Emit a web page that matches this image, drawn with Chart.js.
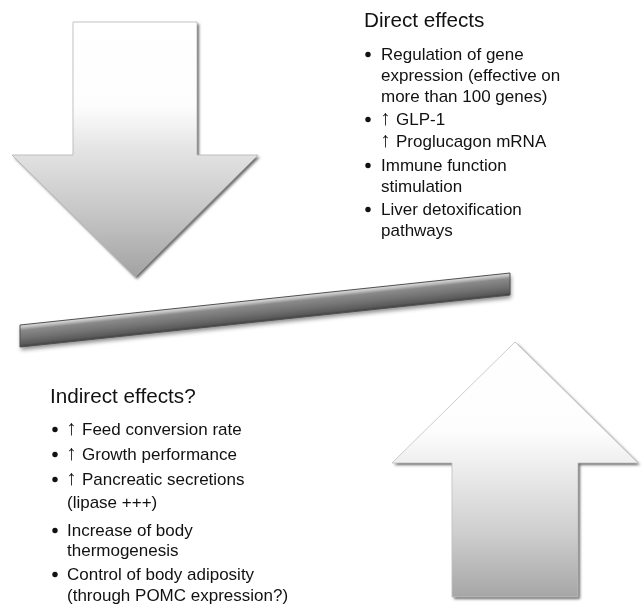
<!DOCTYPE html>
<html><head><meta charset="utf-8">
<script src="https://cdn.jsdelivr.net/npm/chart.js@4/dist/chart.umd.min.js"></script>
<style>html,body{margin:0;padding:0;background:#fff}#wrap{position:relative;width:642px;height:606px}</style>
</head><body><div id="wrap"><canvas id="c"></canvas></div>
<script>
// ---- content ----
const directTitle = 'Direct effects';
const directItems = [
  ['Regulation of gene', 'expression (effective on', 'more than 100 genes)'],
  ['\u2191 GLP-1', '\u2191 Proglucagon mRNA'],
  ['Immune function', 'stimulation'],
  ['Liver detoxification', 'pathways']
];
const indirectTitle = 'Indirect effects?';
const indirectItems = [
  ['\u2191 Feed conversion rate'],
  ['\u2191 Growth performance'],
  ['\u2191 Pancreatic secretions', '(lipase +++)'],
  ['Increase of body', 'thermogenesis'],
  ['Control of body adiposity', '(through POMC expression?)']
];

// ---- layout (diagram coordinates, 1 unit = 1 px) ----
const downArrowShape = [[73,22],[197,22],[197,155],[258,155],[135,277],[12,155],[73,155]];
const upArrowShape   = [[515,342],[638,463],[578,463],[578,597],[452,597],[452,463],[392,463]];
const beamShape      = [[20,325],[510,273],[510,295],[20,347]];

const directLayout = { titleX: 364, titleY: 27, bulletX: 368, textX: 381,
  baselines: [[60,81,102],[125,147],[171,192],[215,236]] };
const indirectLayout = { titleX: 50, titleY: 403, bulletX: 55, textX: 67,
  baselines: [[435],[460],[485,508],[536,556],[580,601]] };

const bodyFont = '17px "Liberation Sans", Arial, Helvetica, sans-serif';
const arrowFont = '21px "Liberation Sans", Arial, Helvetica, sans-serif';
const titleFont = '20.7px "Liberation Sans", Arial, Helvetica, sans-serif';

function toPts(s){ return s.map(p => ({x:p[0], y:p[1]})); }

const shapesPlugin = {
  id: 'shapes',
  afterDatasetsDraw(chart) {
    const ctx = chart.ctx;
    const xs = chart.scales.x, ys = chart.scales.y;
    const path = (i) => {
      const pts = chart.getDatasetMeta(i).data;
      ctx.beginPath();
      pts.forEach((p, k) => k ? ctx.lineTo(p.x, p.y) : ctx.moveTo(p.x, p.y));
      ctx.closePath();
      return pts;
    };
    // down arrow
    ctx.save();
    let pts = path(0);
    let g = ctx.createLinearGradient(0, ys.getPixelForValue(22), 0, ys.getPixelForValue(277));
    g.addColorStop(0, '#ffffff'); g.addColorStop(0.33, '#fdfdfd'); g.addColorStop(0.5, '#e4e4e4');
    g.addColorStop(0.75, '#c6c6c6'); g.addColorStop(1, '#a2a2a2');
    ctx.shadowColor = 'rgba(0,0,0,0.6)'; ctx.shadowBlur = 3; ctx.shadowOffsetX = 2; ctx.shadowOffsetY = 2;
    ctx.fillStyle = g; ctx.fill();
    ctx.shadowColor = 'transparent';
    ctx.lineWidth = 0.8; ctx.strokeStyle = '#b5b5b5'; ctx.stroke();
    ctx.restore();
    // up arrow
    ctx.save();
    path(1);
    g = ctx.createLinearGradient(0, ys.getPixelForValue(342), 0, ys.getPixelForValue(597));
    g.addColorStop(0, '#ffffff'); g.addColorStop(0.35, '#fdfdfd'); g.addColorStop(0.5, '#ececec');
    g.addColorStop(0.75, '#cecece'); g.addColorStop(1, '#a6a6a6');
    ctx.shadowColor = 'rgba(0,0,0,0.6)'; ctx.shadowBlur = 3; ctx.shadowOffsetX = 2; ctx.shadowOffsetY = 2;
    ctx.fillStyle = g; ctx.fill();
    ctx.shadowColor = 'transparent';
    ctx.lineWidth = 0.8; ctx.strokeStyle = '#c0c0c0'; ctx.stroke();
    ctx.restore();
    // beam: gradient across its thickness (perpendicular to its axis)
    ctx.save();
    pts = path(2);
    const dx = pts[1].x - pts[0].x, dy = pts[1].y - pts[0].y;
    const len = Math.hypot(dx, dy);
    const nx = -dy / len, ny = dx / len;
    const thick = (pts[3].y - pts[0].y) * ny;
    const mx = (pts[0].x + pts[1].x) / 2, my = (pts[0].y + pts[1].y) / 2;
    g = ctx.createLinearGradient(mx, my, mx + nx * thick, my + ny * thick);
    g.addColorStop(0, '#dcdcdc'); g.addColorStop(0.1, '#c4c4c4'); g.addColorStop(0.25, '#8a8a8a');
    g.addColorStop(0.6, '#727272'); g.addColorStop(0.88, '#5a5a5a'); g.addColorStop(1, '#404040');
    ctx.shadowColor = 'rgba(0,0,0,0.45)'; ctx.shadowBlur = 4; ctx.shadowOffsetX = 1; ctx.shadowOffsetY = 3;
    ctx.fillStyle = g; ctx.fill();
    ctx.shadowColor = 'transparent';
    ctx.lineJoin = 'round'; ctx.lineWidth = 1; ctx.strokeStyle = '#505050'; ctx.stroke();
    ctx.restore();

    // text
    const drawLine = (t, x, y) => {
      if (t.startsWith('\u2191 ')) {
        ctx.font = arrowFont;
        ctx.fillText('\u2191', x - 1, y);
        ctx.font = bodyFont;
        ctx.fillText(t.slice(2), x + 15, y);
      } else {
        ctx.fillText(t, x, y);
      }
    };
    const drawBlock = (title, items, L) => {
      ctx.save();
      ctx.fillStyle = '#111';
      ctx.textBaseline = 'alphabetic';
      ctx.font = titleFont;
      ctx.fillText(title, xs.getPixelForValue(L.titleX), ys.getPixelForValue(L.titleY));
      ctx.font = bodyFont;
      items.forEach((lines, i) => {
        const b0 = ys.getPixelForValue(L.baselines[i][0]);
        ctx.beginPath();
        ctx.arc(xs.getPixelForValue(L.bulletX), b0 - 5.5, 2.7, 0, Math.PI * 2);
        ctx.fill();
        lines.forEach((t, j) => {
          drawLine(t, xs.getPixelForValue(L.textX), ys.getPixelForValue(L.baselines[i][j]));
        });
      });
      ctx.restore();
    };
    drawBlock(directTitle, directItems, directLayout);
    drawBlock(indirectTitle, indirectItems, indirectLayout);
  }
};

new Chart(document.getElementById('c'), {
  type: 'scatter',
  data: { datasets: [
    { label: 'Direct effects', data: toPts(downArrowShape), pointRadius: 0, showLine: false },
    { label: 'Indirect effects', data: toPts(upArrowShape), pointRadius: 0, showLine: false },
    { label: 'Balance', data: toPts(beamShape), pointRadius: 0, showLine: false }
  ]},
  options: {
    responsive: true, maintainAspectRatio: false, animation: false, events: [],
    layout: { padding: 0 },
    plugins: { legend: { display: false }, tooltip: { enabled: false } },
    scales: {
      x: { type: 'linear', min: 0, max: 642, display: false },
      y: { type: 'linear', min: 0, max: 606, reverse: true, display: false }
    }
  },
  plugins: [shapesPlugin]
});
</script></body></html>
